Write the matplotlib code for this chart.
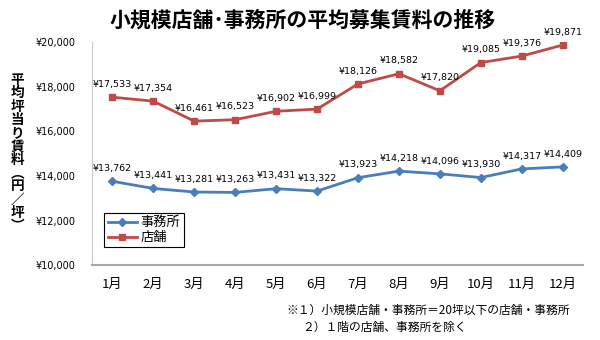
import matplotlib
matplotlib.use("Agg")
import matplotlib.pyplot as plt
from matplotlib.ticker import FuncFormatter

plt.rcParams['font.family'] = ['Noto Sans CJK JP', 'DejaVu Sans']

months = ['1月', '2月', '3月', '4月', '5月', '6月', '7月', '8月', '9月', '10月', '11月', '12月']
office = [13762, 13441, 13281, 13263, 13431, 13322, 13923, 14218, 14096, 13930, 14317, 14409]
store = [17533, 17354, 16461, 16523, 16902, 16999, 18126, 18582, 17820, 19085, 19376, 19871]

blue = '#4A7EBB'
red = '#BE4B48'

fig = plt.figure(figsize=(6, 3.4), dpi=100)
ax = fig.add_axes([0.153, 0.22, 0.819, 0.656])

x = range(len(months))
ax.plot(x, office, color=blue, lw=2, marker='D', ms=4, label='事務所')
ax.plot(x, store, color=red, lw=2, marker='s', ms=5, label='店舗')

# data labels
for series in (office, store):
    for i, v in enumerate(series):
        ax.annotate('¥{:,}'.format(v), (i, v), xytext=(0, 6), textcoords='offset points',
                    ha='center', va='bottom', fontsize=6.8, family=['DejaVu Sans'])

ax.set_xlim(-0.5, len(months) - 0.5)
ax.set_ylim(10000, 20000)
ax.set_yticks([10000, 12000, 14000, 16000, 18000, 20000])
ax.yaxis.set_major_formatter(FuncFormatter(lambda v, p: '¥{:,.0f}'.format(v)))
ax.set_xticks(list(x))
ax.set_xticklabels(months, fontsize=9.5)
ax.tick_params(axis='y', length=0, labelsize=7, pad=12)
ax.tick_params(axis='x', length=0, pad=9)
for lab in ax.get_yticklabels():
    lab.set_family(['DejaVu Sans'])

ax.spines['top'].set_visible(False)
ax.spines['right'].set_visible(False)
ax.spines['left'].set_color('#C8C8C8')
ax.spines['bottom'].set_color('#A6A6A6')
ax.spines['bottom'].set_linewidth(1.5)

leg = ax.legend(loc='lower left', bbox_to_anchor=(0.012, 0.05), fontsize=9.5,
                fancybox=False, edgecolor='black', framealpha=1,
                handlelength=2.2, handletextpad=0.3, borderpad=0.25, labelspacing=0.15)
leg.get_frame().set_linewidth(0.8)

fig.text(0.505, 0.94, '小規模店舗･事務所の平均募集賃料の推移', ha='center', va='center',
         fontsize=15, fontweight='bold')

ylabel = '平均坪当り賃料︵円／坪︶'
fig.text(0.029, 0.55, '\n'.join(ylabel), ha='center', va='center', fontsize=9.8,
         fontweight='bold', linespacing=0.93)

fig.text(0.478, 0.088, '※１）小規模店舗・事務所＝20坪以下の店舗・事務所', ha='left', va='center', fontsize=8.5)
fig.text(0.503, 0.038, '２）１階の店舗、事務所を除く', ha='left', va='center', fontsize=8.5)

fig.savefig('out.png', dpi=100)
